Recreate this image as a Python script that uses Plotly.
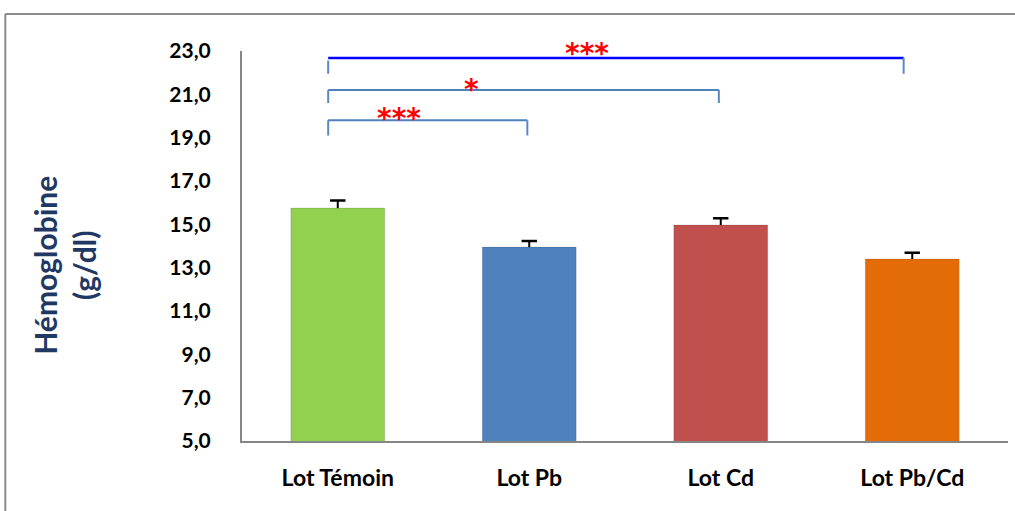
import plotly.graph_objects as go

# Hemoglobin by group
groups = ["Lot Témoin", "Lot Pb", "Lot Cd", "Lot Pb/Cd"]
hemoglobin = [15.75, 13.95, 14.97, 13.4]
sem = [0.35, 0.28, 0.31, 0.29]
bar_colors = ["#92D050", "#4F81BD", "#C0504D", "#E36C09"]

Y_MIN, Y_MAX = 5, 23
y_ticks = [5, 7, 9, 11, 13, 15, 17, 19, 21, 23]
y_tick_text = ["5,0", "7,0", "9,0", "11,0", "13,0", "15,0", "17,0", "19,0", "21,0", "23,0"]

# Significance brackets: (start index, end index, line level, tick bottom)
brackets = [
    (0, 1, 19.8, 19.1),
    (0, 2, 21.2, 20.6),
    (0, 3, 22.68, 21.95),
]
# Stars: (x position in category units, y level, text)
stars = [(0.32, 20.14, "***"), (0.70, 21.52, "*"), (1.30, 23.18, "***")]

FONT = "Lato"

fig = go.Figure()
fig.add_trace(go.Bar(
    x=groups,
    y=hemoglobin,
    marker=dict(color=bar_colors, line=dict(color="rgba(0,0,0,0.12)", width=1)),
    error_y=dict(type="data", array=sem, arrayminus=[0] * len(sem), symmetric=False,
                 color="black", thickness=2, width=0),
    width=0.49,
))
# caps on the upper end of the error bars only
fig.add_trace(go.Scatter(
    x=groups,
    y=[v + e for v, e in zip(hemoglobin, sem)],
    mode="markers",
    marker=dict(symbol="line-ew", size=11, line=dict(color="black", width=2.5)),
    hoverinfo="skip",
))

shapes = []
annotations = []
left_off = -0.05
for i0, i1, level, tick_bottom in brackets:
    top = (i1 == 3)
    line_color = "#0000FF" if top else "#4F81BD"
    tick_color = "#5A87C6"
    x0 = i0 + left_off
    x1 = i1 - 0.045 if top else i1 - 0.01
    shapes.append(dict(type="line", xref="x", yref="y", x0=x0, x1=x1, y0=level, y1=level,
                       line=dict(color=line_color, width=2.5 if top else 2)))
    shapes.append(dict(type="line", xref="x", yref="y", x0=x0, x1=x0,
                       y0=level - (0.12 if top else 0), y1=tick_bottom,
                       line=dict(color=tick_color, width=2)))
    shapes.append(dict(type="line", xref="x", yref="y", x0=x1, x1=x1, y0=level, y1=tick_bottom,
                       line=dict(color=tick_color, width=2)))

# stars use paper y so the topmost one may sit above the plot area
for xs, ys, s in stars:
    annotations.append(dict(x=xs, y=(ys - Y_MIN) / (Y_MAX - Y_MIN), xref="x", yref="paper",
                            text="<b>" + s + "</b>",
                            showarrow=False, xanchor="center", yanchor="middle", yshift=-6,
                            font=dict(family="DejaVu Sans", size=28, color="#FF0000")))

# y axis title
annotations.append(dict(x=-0.232, y=0.45, xref="paper", yref="paper",
                        xanchor="center", yanchor="middle",
                        text="<b>Hémoglobine<br>(g/dl)</b>", showarrow=False, textangle=-90,
                        font=dict(family=FONT, size=30, color="#1F3864"), align="center"))

# outer chart-area frame
shapes.append(dict(type="line", xref="paper", yref="paper", x0=-0.309, x1=1.02, y0=1.095, y1=1.095,
                   line=dict(color="#8C8C8C", width=2)))
shapes.append(dict(type="line", xref="paper", yref="paper", x0=-0.309, x1=-0.309, y0=1.095, y1=-0.2,
                   line=dict(color="#8C8C8C", width=2)))

fig.update_layout(
    width=1015, height=511,
    margin=dict(l=242, r=7, t=51, b=70),
    plot_bgcolor="white", paper_bgcolor="white",
    showlegend=False,
    shapes=shapes,
    annotations=annotations,
    font=dict(family=FONT, color="black"),
)
fig.update_xaxes(
    showline=True, linecolor="#868686", linewidth=2,
    tickfont=dict(family=FONT, size=23, color="black", weight="bold"),
    ticks="", ticklabelstandoff=15, showgrid=False,
)
fig.update_yaxes(
    range=[Y_MIN, Y_MAX], tickvals=y_ticks, ticktext=y_tick_text,
    showline=True, linecolor="#868686", linewidth=2,
    tickfont=dict(family=FONT, size=21, color="black", weight="bold"),
    ticks="", ticklabelstandoff=25, showgrid=False, zeroline=False,
)

fig.write_html("out.html")
